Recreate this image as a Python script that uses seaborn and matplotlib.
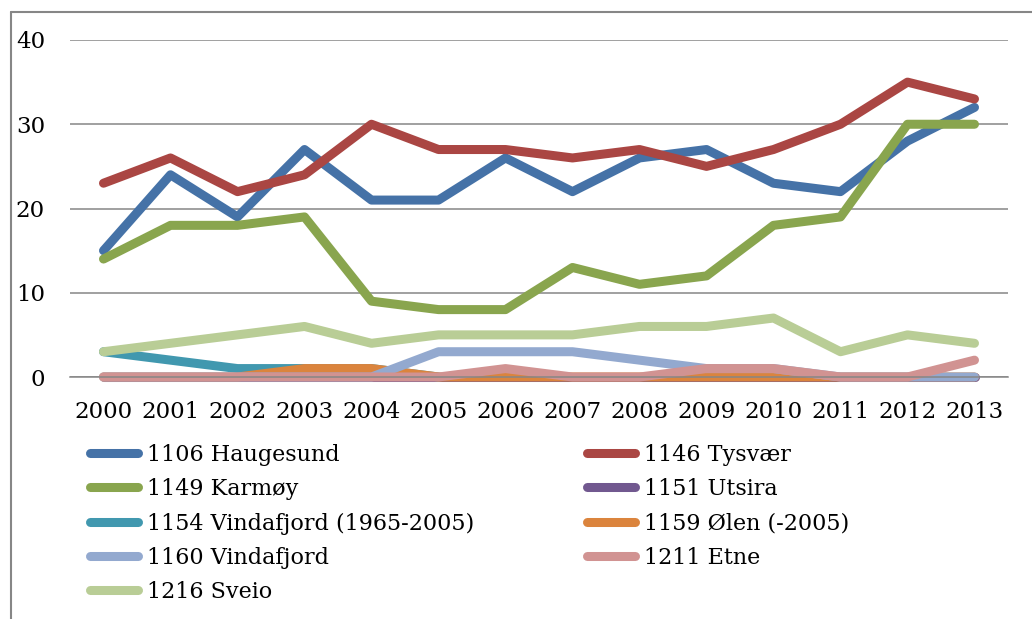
import matplotlib
matplotlib.use('Agg')
import matplotlib.pyplot as plt
from matplotlib.lines import Line2D
import numpy as np
import pandas as pd
import seaborn as sns

years = [str(y) for y in range(2000, 2014)]

haugesund = [15, 24, 19, 27, 21, 21, 26, 22, 26, 27, 23, 22, 28, 32]
tysvaer = [23, 26, 22, 24, 30, 27, 27, 26, 27, 25, 27, 30, 35, 33]
karmoy = [14, 18, 18, 19, 9, 8, 8, 13, 11, 12, 18, 19, 30, 30]
utsira = [0, 0, 0, 0, 0, 0, 0, 0, 0, 0, 0, 0, 0, 0]
vindafjord_old = [3, 2, 1, 1, 1, 0, np.nan, np.nan, np.nan, np.nan, np.nan, np.nan, np.nan, np.nan]
olen = [0, 0, 0, 1, 1, 0, 0, 0, 0, 0, 0, 0, 0, 0]
vindafjord_new = [0, 0, 0, 0, 0, 3, 3, 3, 2, 1, 1, 0, 0, 0]
etne = [0, 0, 0, 0, 0, 0, 1, 0, 0, 1, 1, 0, 0, 2]
sveio = [3, 4, 5, 6, 4, 5, 5, 5, 6, 6, 7, 3, 5, 4]

series_names = [
    '1106 Haugesund', '1146 Tysvær', '1149 Karmøy', '1151 Utsira',
    '1154 Vindafjord (1965-2005)', '1159 Ølen (-2005)', '1160 Vindafjord',
    '1211 Etne', '1216 Sveio',
]
series_values = [haugesund, tysvaer, karmoy, utsira, vindafjord_old,
                 olen, vindafjord_new, etne, sveio]
colors = ['#4572A7', '#AA4643', '#89A54E', '#71588F', '#4198AF',
          '#DB843D', '#93A9CF', '#D19392', '#B9CD96']

rows = []
for name, vals in zip(series_names, series_values):
    for i, v in enumerate(vals):
        rows.append({'idx': i, 'value': v, 'series': name})
df = pd.DataFrame(rows)

sns.set_style('white')
plt.rcParams['font.family'] = ['DejaVu Serif']
plt.rcParams['text.color'] = 'black'

LW = 6.5

fig = plt.figure(figsize=(10.32, 6.19), dpi=100)
ax = fig.add_axes([70 / 1032, 1 - 377 / 619, 938 / 1032, 337 / 619])

palette = dict(zip(series_names, colors))
sns.lineplot(data=df, x='idx', y='value', hue='series', hue_order=series_names,
             palette=palette, linewidth=LW, ax=ax, legend=False,
             estimator=None, sort=False)
for line in ax.get_lines():
    line.set_clip_on(False)
    line.set_solid_capstyle('round')
    line.set_solid_joinstyle('round')

ax.set_xlim(-0.5, 13.5)
ax.set_ylim(0, 40)
ax.set_xticks(range(len(years)))
ax.set_xticklabels(years)
ax.set_yticks([0, 10, 20, 30, 40])
ax.set_xlabel('')
ax.set_ylabel('')
ax.tick_params(axis='both', length=0, labelsize=16.5, colors='black')
ax.tick_params(axis='x', pad=17)
ax.tick_params(axis='y', pad=18)
ax.yaxis.grid(True, color='#868686', linewidth=1.1)
ax.set_axisbelow(True)
for s in ['left', 'right', 'top']:
    ax.spines[s].set_visible(False)
ax.spines['bottom'].set_color('#868686')
ax.spines['bottom'].set_linewidth(1.1)

# legend as two columns, row-major like the original
handles = [Line2D([0], [0], color=c, linewidth=LW, solid_capstyle='round') for c in colors]
leg_kw = dict(loc='upper left', frameon=False, fontsize=16, handlelength=2.15,
              handletextpad=0.4, labelspacing=0.55, borderaxespad=0, borderpad=0,
              labelcolor='black')
col1 = [0, 2, 4, 6, 8]
col2 = [1, 3, 5, 7]
fig.legend([handles[i] for i in col1], [series_names[i] for i in col1],
           bbox_to_anchor=(90 / 1032, 1 - 444 / 619), **leg_kw)
fig.legend([handles[i] for i in col2], [series_names[i] for i in col2],
           bbox_to_anchor=(587 / 1032, 1 - 444 / 619), **leg_kw)

# outer chart frame
fig.add_artist(Line2D([11 / 1032, 11 / 1032], [0, 1 - 12 / 619], color='#868686', linewidth=1.5))
fig.add_artist(Line2D([11 / 1032, 1], [1 - 12 / 619, 1 - 12 / 619], color='#868686', linewidth=1.5))

fig.savefig('out.png', dpi=100, facecolor='white')
